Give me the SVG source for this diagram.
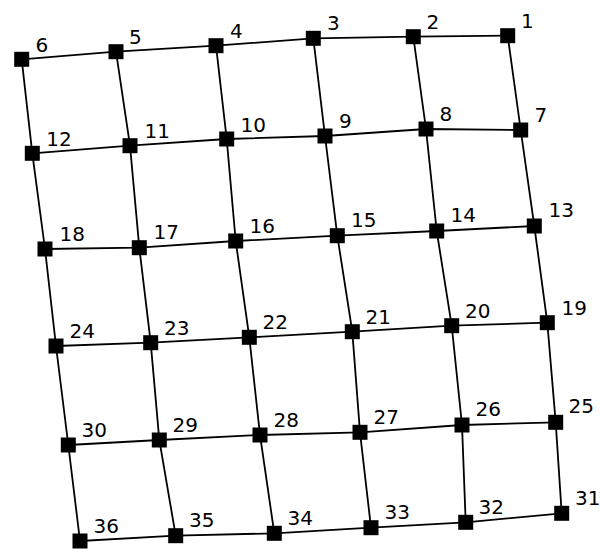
<svg xmlns="http://www.w3.org/2000/svg" width="601" height="552" viewBox="0 0 601 552">
<style>
.e{stroke:#000;stroke-width:1.8;fill:none}
.n rect{fill:#000}
.n text{font-family:"DejaVu Sans",Verdana,sans-serif;font-size:20px;fill:#000}
</style>
<rect width="601" height="552" fill="#fff"/>
<g id="connectors">
<polyline class="e" points="21.7,59.3 116,51.7 216,45.7 313.3,38.3 413.3,36.7 507.7,35.7"/>
<polyline class="e" points="32.3,153.3 130,145.7 226.7,139 325,136 426,129 520.7,130"/>
<polyline class="e" points="45,249 139.3,247.7 235.7,241 337.3,235.7 436.7,231 534.3,226"/>
<polyline class="e" points="56,346 150.7,342.7 249.3,337.3 352.3,331.7 451.7,325.7 547.3,322.7"/>
<polyline class="e" points="68.3,445 159.3,440 260,435 360,432.3 462,425 555.7,422.3"/>
<polyline class="e" points="80,541 175.7,535.7 274.3,533.3 371,527.7 465.7,522.3 561.7,513.3"/>
<polyline class="e" points="21.7,59.3 32.3,153.3 45,249 56,346 68.3,445 80,541"/>
<polyline class="e" points="116,51.7 130,145.7 139.3,247.7 150.7,342.7 159.3,440 175.7,535.7"/>
<polyline class="e" points="216,45.7 226.7,139 235.7,241 249.3,337.3 260,435 274.3,533.3"/>
<polyline class="e" points="313.3,38.3 325,136 337.3,235.7 352.3,331.7 360,432.3 371,527.7"/>
<polyline class="e" points="413.3,36.7 426,129 436.7,231 451.7,325.7 462,425 465.7,522.3"/>
<polyline class="e" points="507.7,35.7 520.7,130 534.3,226 547.3,322.7 555.7,422.3 561.7,513.3"/>
</g>
<g id="n1" class="n"><rect x="500.2" y="28.2" width="15" height="15"/><text x="521" y="27.5">1</text></g>
<g id="n2" class="n"><rect x="405.8" y="29.2" width="15" height="15"/><text x="426.5" y="29.3">2</text></g>
<g id="n3" class="n"><rect x="305.8" y="30.8" width="15" height="15"/><text x="327" y="30">3</text></g>
<g id="n4" class="n"><rect x="208.5" y="38.2" width="15" height="15"/><text x="230" y="38.3">4</text></g>
<g id="n5" class="n"><rect x="108.5" y="44.2" width="15" height="15"/><text x="129" y="44">5</text></g>
<g id="n6" class="n"><rect x="14.2" y="51.8" width="15" height="15"/><text x="35.5" y="51.7">6</text></g>
<g id="n7" class="n"><rect x="513.2" y="122.5" width="15" height="15"/><text x="534.5" y="122">7</text></g>
<g id="n8" class="n"><rect x="418.5" y="121.5" width="15" height="15"/><text x="439.5" y="121">8</text></g>
<g id="n9" class="n"><rect x="317.5" y="128.5" width="15" height="15"/><text x="339" y="128">9</text></g>
<g id="n10" class="n"><rect x="219.2" y="131.5" width="15" height="15"/><text x="240.5" y="131.7">10</text></g>
<g id="n11" class="n"><rect x="122.5" y="138.2" width="15" height="15"/><text x="144.5" y="138.3">11</text></g>
<g id="n12" class="n"><rect x="24.8" y="145.8" width="15" height="15"/><text x="46.3" y="146">12</text></g>
<g id="n13" class="n"><rect x="526.8" y="218.5" width="15" height="15"/><text x="548.5" y="217">13</text></g>
<g id="n14" class="n"><rect x="429.2" y="223.5" width="15" height="15"/><text x="450.5" y="222">14</text></g>
<g id="n15" class="n"><rect x="329.8" y="228.2" width="15" height="15"/><text x="351" y="227.3">15</text></g>
<g id="n16" class="n"><rect x="228.2" y="233.5" width="15" height="15"/><text x="249.5" y="232.7">16</text></g>
<g id="n17" class="n"><rect x="131.8" y="240.2" width="15" height="15"/><text x="153.5" y="239.3">17</text></g>
<g id="n18" class="n"><rect x="37.5" y="241.5" width="15" height="15"/><text x="59.5" y="240.7">18</text></g>
<g id="n19" class="n"><rect x="539.8" y="315.2" width="15" height="15"/><text x="561.5" y="315">19</text></g>
<g id="n20" class="n"><rect x="444.2" y="318.2" width="15" height="15"/><text x="465" y="317.7">20</text></g>
<g id="n21" class="n"><rect x="344.8" y="324.2" width="15" height="15"/><text x="365.5" y="323.7">21</text></g>
<g id="n22" class="n"><rect x="241.8" y="329.8" width="15" height="15"/><text x="262.5" y="329.3">22</text></g>
<g id="n23" class="n"><rect x="143.2" y="335.2" width="15" height="15"/><text x="164" y="334.7">23</text></g>
<g id="n24" class="n"><rect x="48.5" y="338.5" width="15" height="15"/><text x="69.5" y="338">24</text></g>
<g id="n25" class="n"><rect x="548.2" y="414.8" width="15" height="15"/><text x="568.5" y="413.3">25</text></g>
<g id="n26" class="n"><rect x="454.5" y="417.5" width="15" height="15"/><text x="475.5" y="416.3">26</text></g>
<g id="n27" class="n"><rect x="352.5" y="424.8" width="15" height="15"/><text x="373.5" y="423.7">27</text></g>
<g id="n28" class="n"><rect x="252.5" y="427.5" width="15" height="15"/><text x="273.5" y="426.7">28</text></g>
<g id="n29" class="n"><rect x="151.8" y="432.5" width="15" height="15"/><text x="172.5" y="431.7">29</text></g>
<g id="n30" class="n"><rect x="60.8" y="437.5" width="15" height="15"/><text x="81.5" y="436.7">30</text></g>
<g id="n31" class="n"><rect x="554.2" y="505.8" width="15" height="15"/><text x="575" y="505">31</text></g>
<g id="n32" class="n"><rect x="458.2" y="514.8" width="15" height="15"/><text x="478.5" y="514">32</text></g>
<g id="n33" class="n"><rect x="363.5" y="520.2" width="15" height="15"/><text x="384.5" y="519.3">33</text></g>
<g id="n34" class="n"><rect x="266.8" y="525.8" width="15" height="15"/><text x="287.5" y="525">34</text></g>
<g id="n35" class="n"><rect x="168.2" y="528.2" width="15" height="15"/><text x="189" y="527.3">35</text></g>
<g id="n36" class="n"><rect x="72.5" y="533.5" width="15" height="15"/><text x="93.5" y="532.7">36</text></g>
</svg>
